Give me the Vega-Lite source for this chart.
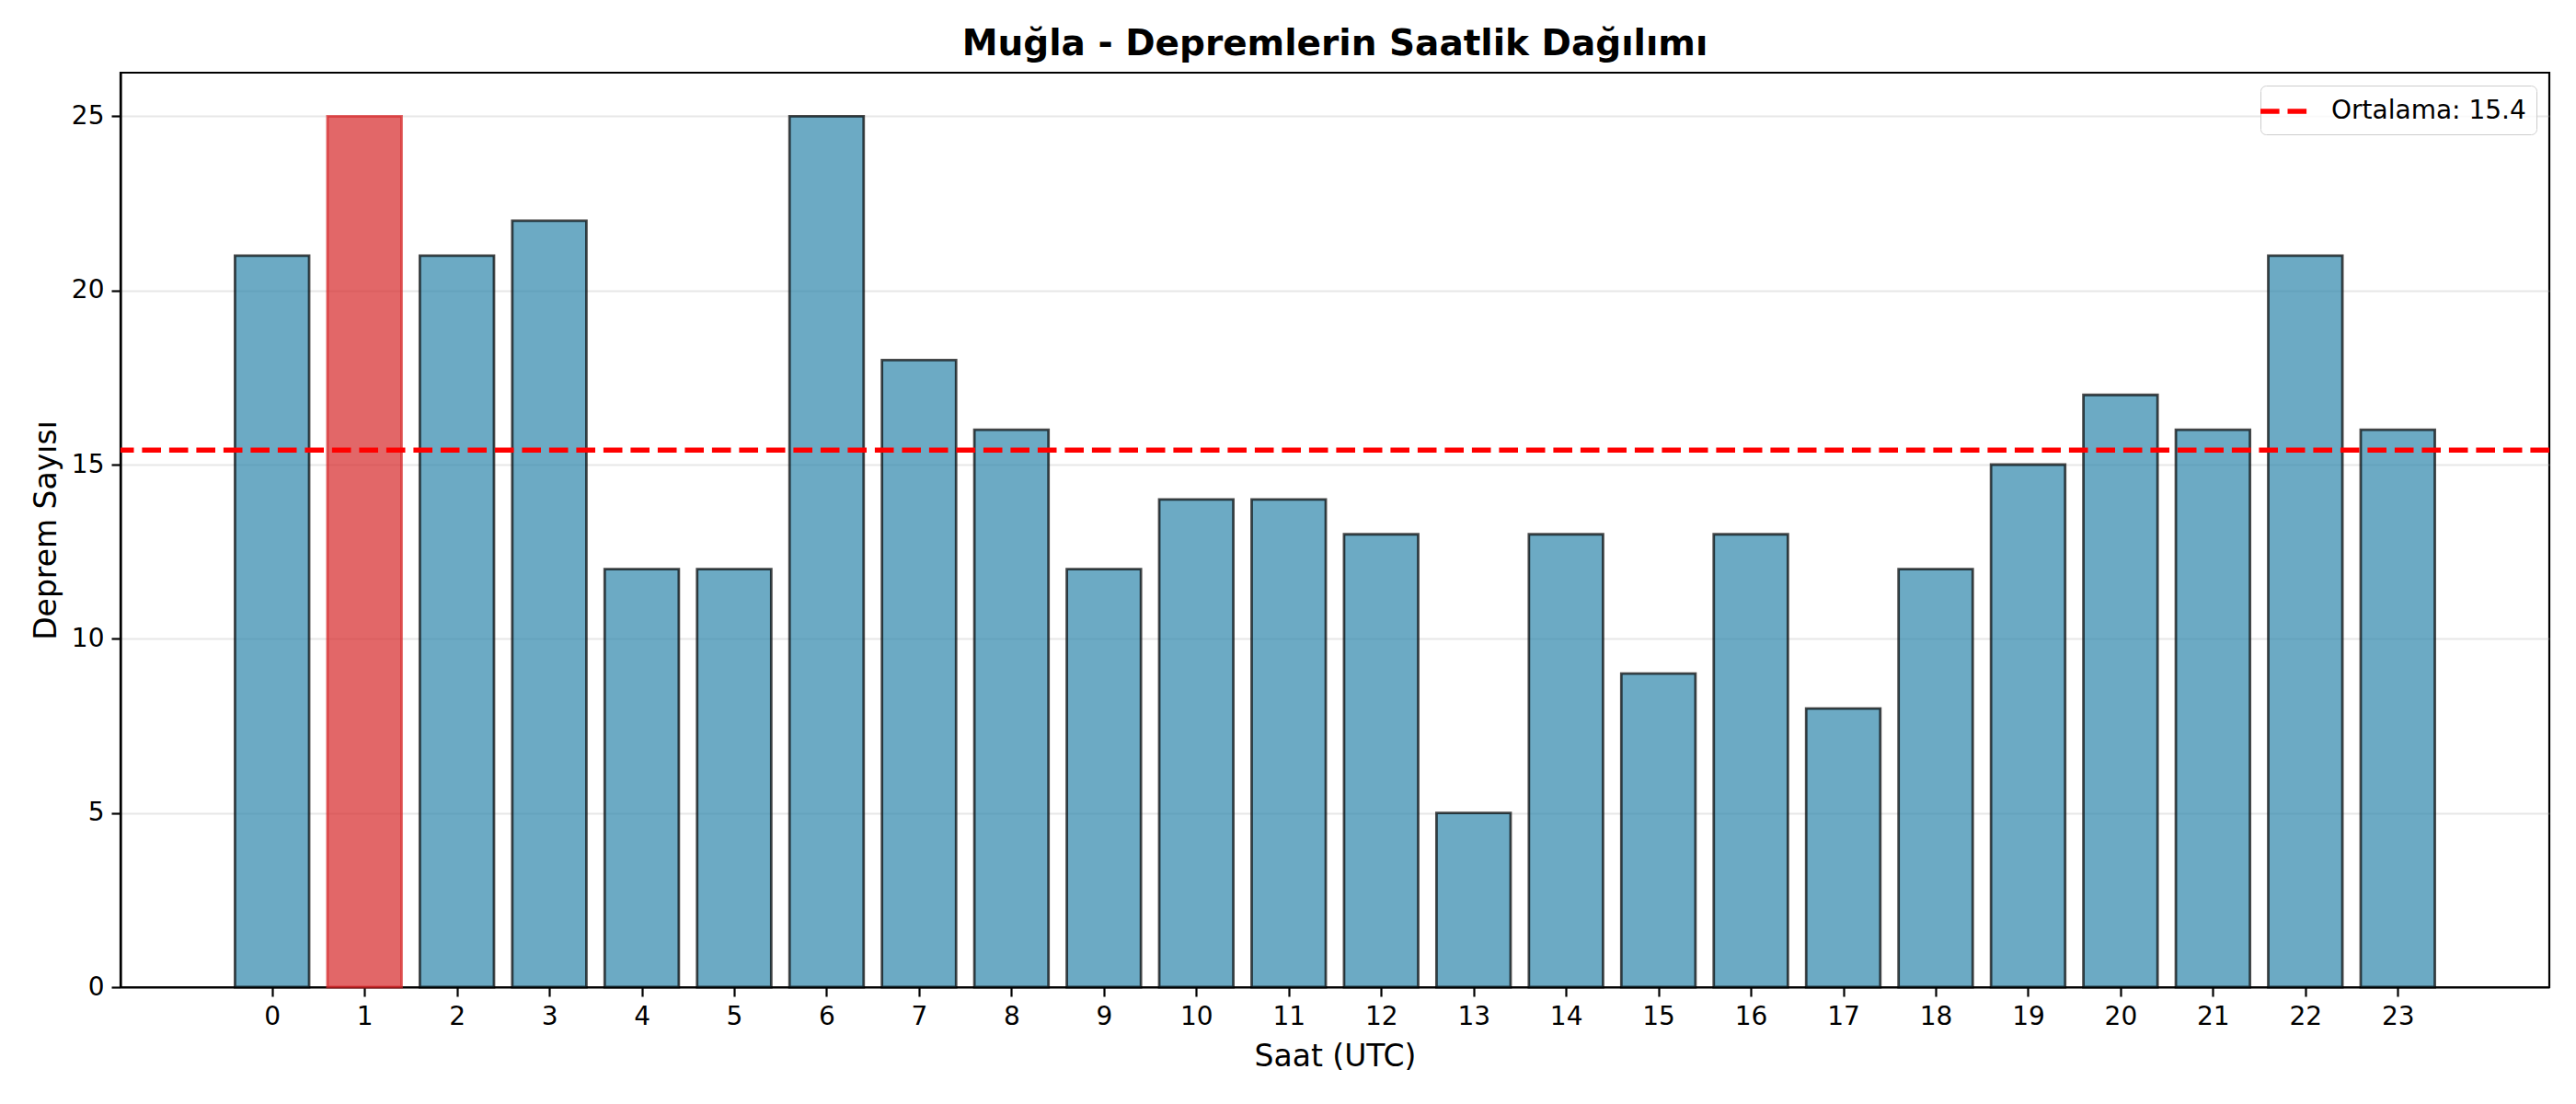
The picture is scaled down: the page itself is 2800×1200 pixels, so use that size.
{
  "$schema": "https://vega.github.io/schema/vega-lite/v6.json",
  "width": 2640,
  "height": 994,
  "autosize": {"type": "none"},
  "padding": {"left": 131, "top": 79, "right": 29, "bottom": 127},
  "background": "white",
  "title": {
    "text": "Muğla - Depremlerin Saatlik Dağılımı",
    "font": "DejaVu Sans",
    "fontSize": 39,
    "fontWeight": "bold",
    "color": "black",
    "anchor": "middle",
    "offset": 11
  },
  "data": {
    "values": [
      {"saat": 0, "sayi": 21},
      {"saat": 1, "sayi": 25},
      {"saat": 2, "sayi": 21},
      {"saat": 3, "sayi": 22},
      {"saat": 4, "sayi": 12},
      {"saat": 5, "sayi": 12},
      {"saat": 6, "sayi": 25},
      {"saat": 7, "sayi": 18},
      {"saat": 8, "sayi": 16},
      {"saat": 9, "sayi": 12},
      {"saat": 10, "sayi": 14},
      {"saat": 11, "sayi": 14},
      {"saat": 12, "sayi": 13},
      {"saat": 13, "sayi": 5},
      {"saat": 14, "sayi": 13},
      {"saat": 15, "sayi": 9},
      {"saat": 16, "sayi": 13},
      {"saat": 17, "sayi": 8},
      {"saat": 18, "sayi": 12},
      {"saat": 19, "sayi": 15},
      {"saat": 20, "sayi": 17},
      {"saat": 21, "sayi": 16},
      {"saat": 22, "sayi": 21},
      {"saat": 23, "sayi": 16}
    ]
  },
  "layer": [
    {
      "mark": {"type": "bar", "width": 80.6, "fillOpacity": 0.7, "strokeOpacity": 0.7, "strokeWidth": 2.8},
      "encoding": {
        "x": {
          "field": "saat",
          "type": "quantitative",
          "scale": {"domain": [-1.59, 24.59], "nice": false, "zero": false},
          "axis": {
            "title": "Saat (UTC)",
            "labelAngle": 0,
            "grid": false,
            "values": [0, 1, 2, 3, 4, 5, 6, 7, 8, 9, 10, 11, 12, 13, 14, 15, 16, 17, 18, 19, 20, 21, 22, 23],
            "format": "d",
            "labelFlush": false,
            "labelOverlap": false,
            "titlePadding": 13
          }
        },
        "y": {
          "field": "sayi",
          "type": "quantitative",
          "scale": {"domain": [0, 26.25], "nice": false},
          "axis": {"title": "Deprem Sayısı", "values": [0, 5, 10, 15, 20, 25], "grid": true, "labelFlush": false}
        },
        "fill": {"condition": {"test": "datum.saat == 1", "value": "#d62728"}, "value": "#2E86AB"},
        "stroke": {"condition": {"test": "datum.saat == 1", "value": "#d62728"}, "value": "black"}
      }
    },
    {
      "mark": {"type": "rule", "strokeWidth": 5.6, "strokeDash": [20.6, 8.9]},
      "encoding": {
        "y": {"aggregate": "mean", "field": "sayi", "type": "quantitative"},
        "stroke": {
          "datum": "Ortalama: 15.4",
          "type": "nominal",
          "scale": {"range": ["#ff0000"]},
          "legend": {
            "title": null,
            "orient": "top-right",
            "offset": 14,
            "symbolType": "M-2,0H2",
            "symbolSize": 784,
            "symbolStrokeWidth": 5.6,
            "symbolDash": [20.6, 8.9],
            "symbolFillColor": "transparent",
            "labelOffset": 32,
            "labelLimit": 0,
            "padding": 11,
            "strokeColor": "#cccccc",
            "cornerRadius": 6,
            "fillColor": "rgba(255,255,255,0.8)"
          }
        }
      }
    }
  ],
  "config": {
    "font": "DejaVu Sans",
    "view": {"stroke": "black", "strokeWidth": 2.2},
    "axis": {
      "labelFont": "DejaVu Sans",
      "labelFontSize": 28,
      "labelColor": "black",
      "titleFont": "DejaVu Sans",
      "titleFontSize": 33,
      "titleFontWeight": "normal",
      "titleColor": "black",
      "domainColor": "black",
      "domainWidth": 2.2,
      "tickColor": "black",
      "tickWidth": 2.2,
      "tickSize": 10,
      "labelPadding": 8,
      "titlePadding": 10,
      "gridColor": "#b0b0b0",
      "gridOpacity": 0.3,
      "gridWidth": 2.2
    },
    "legend": {
      "labelFont": "DejaVu Sans",
      "labelFontSize": 28,
      "labelColor": "black"
    }
  }
}
